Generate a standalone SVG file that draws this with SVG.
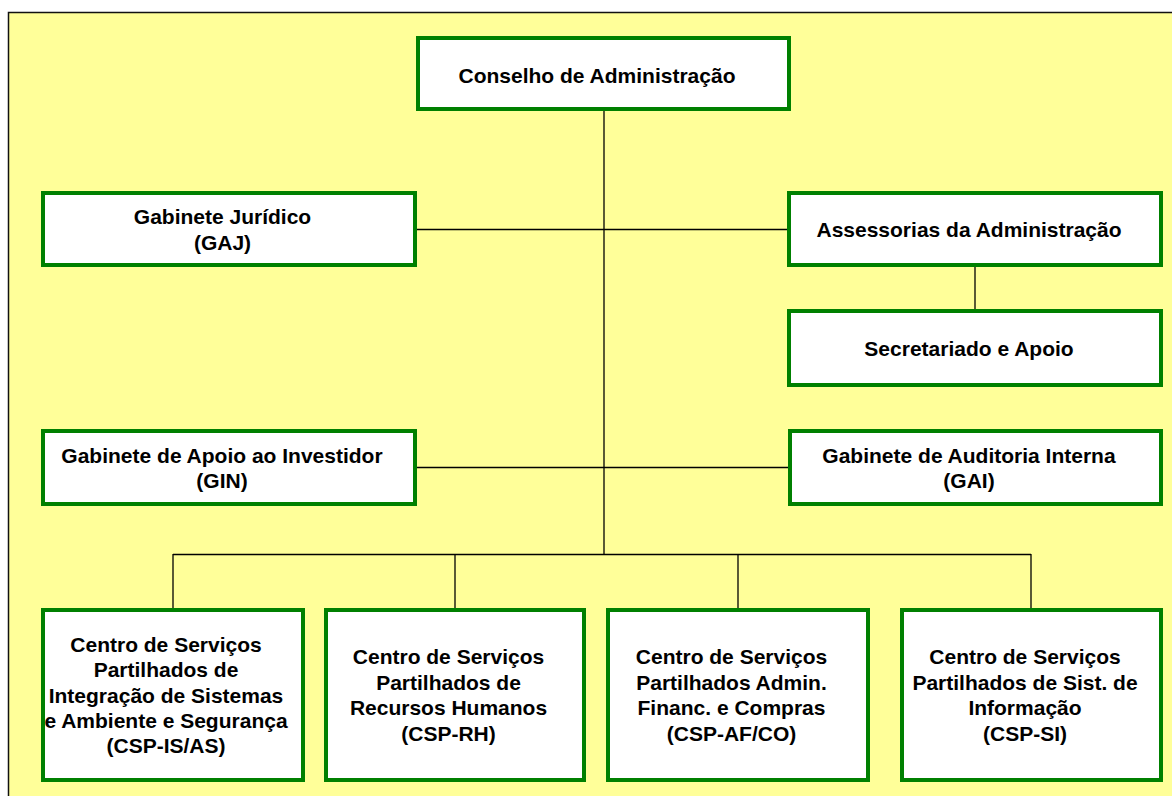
<svg xmlns="http://www.w3.org/2000/svg" width="1172" height="796" viewBox="0 0 1172 796">
<style>
.box{fill:#fff;stroke:#008000;stroke-width:4}
.t{font-family:"Liberation Sans",Arial,sans-serif;font-weight:bold;font-size:21px;fill:#000;text-anchor:middle}
.c{stroke:#000;stroke-width:1.3;fill:none}
</style>
<rect x="0" y="0" width="1172" height="796" fill="#fff"/>
<rect x="8.5" y="12.5" width="1200" height="900" fill="#FFFF99" stroke="#111" stroke-width="1.5"/>
<g id="connectors">
<line class="c" x1="604" y1="111" x2="604" y2="554"/>
<line class="c" x1="417" y1="229.5" x2="787" y2="229.5"/>
<line class="c" x1="975" y1="267" x2="975" y2="309"/>
<line class="c" x1="416" y1="467.5" x2="788" y2="467.5"/>
<line class="c" x1="173" y1="554.5" x2="1031" y2="554.5"/>
<line class="c" x1="173" y1="554" x2="173" y2="608"/>
<line class="c" x1="455" y1="554" x2="455" y2="608"/>
<line class="c" x1="738" y1="554" x2="738" y2="608"/>
<line class="c" x1="1031" y1="554" x2="1031" y2="608"/>
</g>
<g id="conselho">
<rect class="box" x="418" y="38" width="371" height="71"/>
<text class="t" x="597" y="82.5">Conselho de Administração</text>
</g>
<g id="gaj">
<rect class="box" x="43" y="193" width="372" height="72"/>
<text class="t" x="222.5" y="224">Gabinete Jurídico</text>
<text class="t" x="222.5" y="249.5">(GAJ)</text>
</g>
<g id="assessorias">
<rect class="box" x="789" y="193" width="372" height="72"/>
<text class="t" x="969" y="237">Assessorias da Administração</text>
</g>
<g id="secretariado">
<rect class="box" x="789" y="311" width="372" height="74"/>
<text class="t" x="969" y="355.5">Secretariado e Apoio</text>
</g>
<g id="gin">
<rect class="box" x="43" y="431" width="372" height="73"/>
<text class="t" x="222" y="462.5">Gabinete de Apoio ao Investidor</text>
<text class="t" x="222" y="488">(GIN)</text>
</g>
<g id="gai">
<rect class="box" x="790" y="431" width="371" height="73"/>
<text class="t" x="969" y="462.5">Gabinete de Auditoria Interna</text>
<text class="t" x="969" y="488">(GAI)</text>
</g>
<g id="csp-is-as">
<rect class="box" x="43" y="610" width="260" height="170"/>
<text class="t" x="166" y="651.5">Centro de Serviços</text>
<text class="t" x="166" y="677">Partilhados de</text>
<text class="t" x="166" y="702.5">Integração de Sistemas</text>
<text class="t" x="166" y="728">e Ambiente e Segurança</text>
<text class="t" x="166" y="753">(CSP-IS/AS)</text>
</g>
<g id="csp-rh">
<rect class="box" x="326" y="610" width="258" height="170"/>
<text class="t" x="448.5" y="664">Centro de Serviços</text>
<text class="t" x="448.5" y="689.5">Partilhados de</text>
<text class="t" x="448.5" y="715">Recursos Humanos</text>
<text class="t" x="448.5" y="740.5">(CSP-RH)</text>
</g>
<g id="csp-af-co">
<rect class="box" x="608" y="610" width="260" height="170"/>
<text class="t" x="731.5" y="664">Centro de Serviços</text>
<text class="t" x="731.5" y="689.5">Partilhados Admin.</text>
<text class="t" x="731.5" y="715">Financ. e Compras</text>
<text class="t" x="731.5" y="740.5">(CSP-AF/CO)</text>
</g>
<g id="csp-si">
<rect class="box" x="902" y="610" width="259" height="170"/>
<text class="t" x="1025" y="664">Centro de Serviços</text>
<text class="t" x="1025" y="689.5">Partilhados de Sist. de</text>
<text class="t" x="1025" y="715">Informação</text>
<text class="t" x="1025" y="740.5">(CSP-SI)</text>
</g>
</svg>
